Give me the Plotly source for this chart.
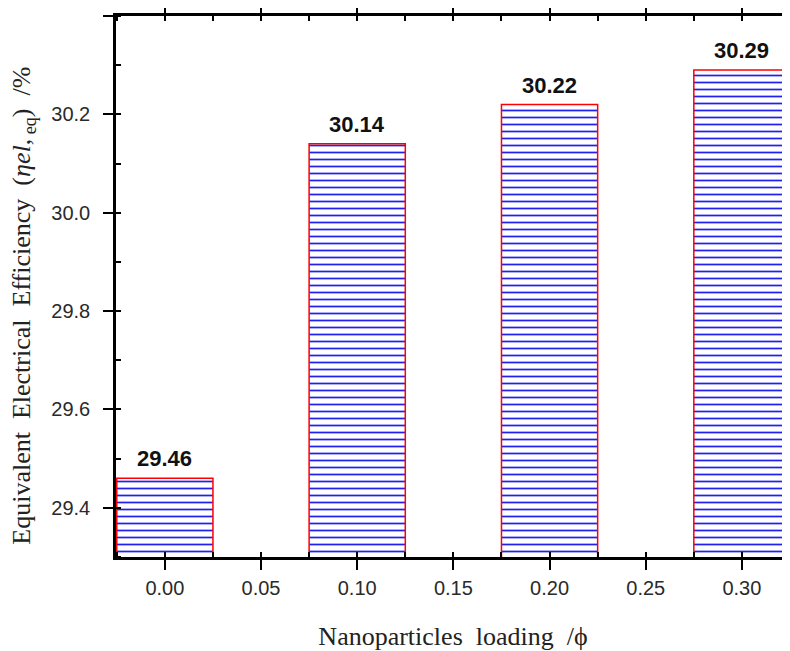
import plotly.graph_objects as go

loading = [0.00, 0.10, 0.20, 0.30]
efficiency = [29.46, 30.14, 30.22, 30.29]
x_ticks = [0.00, 0.05, 0.10, 0.15, 0.20, 0.25, 0.30]
y_ticks = [29.4, 29.6, 29.8, 30.0, 30.2, 30.4]

fig = go.Figure()
fig.add_trace(go.Bar(
    x=loading, y=efficiency, width=0.05,
    marker=dict(color="white",
                line=dict(color="#ff0000", width=1.5),
                pattern=dict(shape="-", fgcolor="#2020f0", bgcolor="white", fgopacity=1,
                             size=7, solidity=0.25, fillmode="overlay")),
    hoverinfo="x+y",
))

for xv, yv in zip(loading, efficiency):
    fig.add_annotation(x=xv, y=yv, text=f"<b>{yv:.2f}</b>", showarrow=False,
                       yanchor="bottom", yshift=5,
                       font=dict(family="Liberation Sans, Arial", size=22, color="#111"))

tickfont = dict(family="Liberation Sans, Arial", size=20, color="#2a2a2a")
SP = "\u2002"

fig.add_annotation(
    text=f"Equivalent{SP}Electrical{SP}Efficiency{SP}(<i>η</i><i>el</i>,<sub> eq</sub>){SP}/%",
    xref="paper", yref="paper", x=0, y=0.4645, xshift=-93,
    xanchor="center", yanchor="middle", textangle=-90, showarrow=False,
    font=dict(family="Liberation Serif, Times New Roman", size=26, color="#222"),
)

fig.update_xaxes(
    range=[-0.0254, 0.3250], tickvals=x_ticks, ticktext=[f"{v:.2f}" for v in x_ticks],
    showline=True, linecolor="black", linewidth=2.5, mirror="allticks",
    ticks="outside", ticklen=10, tickwidth=2, tickcolor="black",
    minor=dict(ticks="inside", ticklen=5, tickwidth=2, tickcolor="black", dtick=0.025, tick0=0),
    showgrid=False, zeroline=False, automargin=False,
    tickfont=tickfont, ticklabelstandoff=1,
    title=dict(text=f"Nanoparticles{SP}loading{SP}/ϕ", standoff=30,
               font=dict(family="Liberation Serif, Times New Roman", size=26, color="#222")),
)
fig.update_yaxes(
    range=[29.3, 30.4], tickvals=y_ticks, ticktext=[f"{v:.1f}" for v in y_ticks],
    showline=True, linecolor="black", linewidth=2.5, mirror=False,
    ticks="outside", ticklen=10, tickwidth=2, tickcolor="black",
    minor=dict(ticks="inside", ticklen=5, tickwidth=2, tickcolor="black", dtick=0.1, tick0=29.3),
    showgrid=False, zeroline=False, automargin=False,
    tickfont=tickfont, ticklabelstandoff=9,
)

# the page body adds an 8px offset, so the figure is sized to end at the window edge
fig.update_layout(
    width=782, height=643,
    margin=dict(l=108, r=0, t=8, b=94),
    plot_bgcolor="white", paper_bgcolor="white",
    showlegend=False,
)

fig.write_html("out.html")
